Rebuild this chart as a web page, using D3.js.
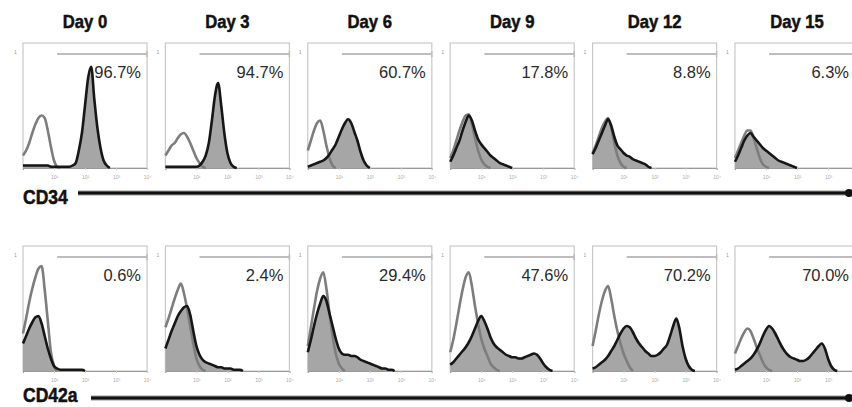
<!DOCTYPE html>
<html><head><meta charset="utf-8">
<script src="https://cdn.jsdelivr.net/npm/d3@7"></script>
<style>
html,body{margin:0;padding:0;background:#fff;overflow:hidden;}
svg{display:block;}
</style></head>
<body>
<svg id="chart" width="852" height="407"></svg>
<script>
// ---------- DATA ----------
const days = ["Day 0", "Day 3", "Day 6", "Day 9", "Day 12", "Day 15"];
const markers = ["CD34", "CD42a"];
const cd34Percent = ["96.7%", "94.7%", "60.7%", "17.8%", "8.8%", "6.3%"];
const cd42aPercent = ["0.6%", "2.4%", "29.4%", "47.6%", "70.2%", "70.0%"];
const decadeTicks = [10, 100, 1000, 10000];
const decadeLabels = ["10¹", "10²", "10³", "10⁴"];
const gateStart = 12.6;          // fluorescence value where the positive gate begins
const channelStep = 0.1;         // log-decade spacing of histogram channels

// relative cell counts per channel (isotype control = grey outline, stained = filled)
const cd34Isotype = [
  [0.10,0.14,0.20,0.28,0.35,0.40,0.42,0.40,0.30,0.17,0.06,0.01,0],
  [0.10,0.14,0.18,0.20,0.24,0.27,0.28,0.25,0.20,0.14,0.08,0.04,0.01,0],
  [0.14,0.22,0.30,0.36,0.38,0.30,0.18,0.08,0.02,0],
  [0.08,0.14,0.22,0.30,0.37,0.42,0.43,0.35,0.24,0.14,0.07,0.03,0.01,0],
  [0.12,0.18,0.25,0.32,0.37,0.40,0.32,0.20,0.10,0.04,0.01,0],
  [0.08,0.14,0.20,0.26,0.30,0.30,0.24,0.16,0.08,0.03,0.01,0]
];
const cd34Stained = [
  [0.02,0.02,0.02,0.02,0.02,0.02,0.02,0.02,0.02,0.01,0.01,0.01,0.01,0.01,0.01,0.01,0.02,0.04,0.14,0.28,0.50,0.72,0.81,0.55,0.32,0.16,0.06,0.02,0],
  [0.01,0.01,0.01,0.01,0.01,0.01,0.01,0.01,0.01,0.01,0.01,0.02,0.05,0.10,0.20,0.38,0.58,0.68,0.50,0.28,0.12,0.04,0.01,0],
  [0.01,0.02,0.03,0.04,0.05,0.06,0.08,0.11,0.15,0.19,0.25,0.31,0.36,0.39,0.36,0.29,0.22,0.13,0.06,0.02,0],
  [0.05,0.10,0.16,0.22,0.30,0.37,0.42,0.38,0.30,0.23,0.19,0.16,0.13,0.10,0.08,0.06,0.04,0.03,0.02,0.01,0],
  [0.11,0.16,0.22,0.28,0.34,0.39,0.34,0.25,0.18,0.15,0.12,0.10,0.09,0.07,0.06,0.05,0.04,0.03,0.01,0],
  [0.05,0.10,0.16,0.22,0.26,0.28,0.25,0.22,0.19,0.16,0.14,0.12,0.10,0.08,0.06,0.05,0.04,0.03,0.02,0.01,0]
];
const cd42aIsotype = [
  [0.30,0.42,0.55,0.66,0.75,0.82,0.84,0.65,0.40,0.15,0.04,0],
  [0.35,0.42,0.50,0.58,0.65,0.70,0.62,0.50,0.36,0.22,0.10,0.04,0.01,0],
  [0.20,0.35,0.50,0.64,0.74,0.79,0.66,0.46,0.28,0.14,0.06,0.02,0],
  [0.15,0.25,0.38,0.52,0.65,0.75,0.79,0.68,0.52,0.38,0.26,0.18,0.12,0.06,0.03,0.01,0],
  [0.20,0.32,0.45,0.56,0.64,0.68,0.58,0.44,0.32,0.22,0.14,0.08,0.03,0],
  [0.14,0.20,0.26,0.31,0.34,0.32,0.26,0.19,0.13,0.07,0.03,0.01,0]
];
const cd42aStained = [
  [0.22,0.28,0.34,0.39,0.43,0.44,0.38,0.28,0.18,0.10,0.04,0.02,0.01,0.01,0.01,0.01,0.01,0.01,0.01,0.01,0],
  [0.18,0.25,0.32,0.38,0.44,0.48,0.51,0.52,0.45,0.32,0.20,0.13,0.09,0.07,0.06,0.05,0.04,0.03,0.03,0.02,0.02,0.02,0.01,0.01,0.01,0],
  [0.15,0.25,0.36,0.46,0.54,0.60,0.56,0.46,0.36,0.26,0.18,0.14,0.13,0.13,0.12,0.12,0.11,0.09,0.08,0.07,0.06,0.05,0.04,0.03,0.02,0.02,0.01,0.01,0],
  [0.05,0.07,0.10,0.13,0.16,0.19,0.23,0.28,0.34,0.40,0.44,0.40,0.34,0.27,0.22,0.19,0.17,0.15,0.13,0.12,0.11,0.11,0.10,0.10,0.11,0.12,0.13,0.14,0.13,0.10,0.06,0.03,0.01,0],
  [0.02,0.03,0.05,0.07,0.09,0.12,0.16,0.20,0.25,0.30,0.34,0.36,0.35,0.31,0.26,0.22,0.19,0.16,0.14,0.12,0.12,0.13,0.15,0.18,0.21,0.28,0.36,0.42,0.34,0.20,0.10,0.04,0.01,0],
  [0.01,0.02,0.04,0.06,0.08,0.10,0.13,0.17,0.22,0.28,0.33,0.36,0.34,0.30,0.25,0.20,0.16,0.13,0.11,0.10,0.09,0.08,0.08,0.09,0.11,0.14,0.17,0.20,0.22,0.18,0.10,0.04,0.01,0]
];

// ---------- LAYOUT ----------
const W = 852;
const svg = d3.select("#chart");
const panelSize = 125;
const rows = [
  { marker: markers[0], top: 43,  pct: cd34Percent,  iso: cd34Isotype,  st: cd34Stained,  labelY: 204, arrowY: 193, arrowX0: 78 },
  { marker: markers[1], top: 246, pct: cd42aPercent, iso: cd42aIsotype, st: cd42aStained, labelY: 402, arrowY: 398, arrowX0: 91 }
];

const colX = d3.scaleBand().domain(days).range([23, 859]).paddingInner(0.129).paddingOuter(0);
const fx = d3.scaleLog().domain([1, 10000]).range([0, colX.bandwidth()]);
const fy = d3.scaleLinear().domain([0, 1]).range([panelSize, 0]);

const defs = svg.append("defs");
defs.append("filter").attr("id", "soft").attr("x", "-5%").attr("y", "-5%").attr("width", "110%").attr("height", "110%")
  .append("feGaussianBlur").attr("stdDeviation", 0.55);

const chan = i => Math.pow(10, i * channelStep);
const area = d3.area().x((d, i) => fx(chan(i))).y0(fy(0)).y1(d => fy(d)).curve(d3.curveMonotoneX);
const line = d3.line().x((d, i) => fx(chan(i))).y(d => fy(d)).curve(d3.curveMonotoneX);

// Column titles
svg.selectAll("text.day").data(days).join("text")
  .attr("class", "day")
  .attr("transform", d => `translate(${colX(d) + colX.bandwidth() / 2},28) scale(0.9,1)`)
  .attr("text-anchor", "middle")
  .attr("font-family", "'Liberation Sans', Arial, sans-serif")
  .attr("font-weight", "bold").attr("font-size", 18.5)
  .attr("fill", "#111").attr("stroke", "#111").attr("stroke-width", 0.5)
  .text(d => d);

rows.forEach(row => {
  days.forEach((day, k) => {
    const x0 = colX(day);
    const g = svg.append("g").attr("transform", `translate(${x0},${row.top})`);
    const w = colX.bandwidth();

    // frame
    g.append("rect").attr("x", 0).attr("y", 0).attr("width", w).attr("height", panelSize)
      .attr("fill", "#fff").attr("stroke", "#c8c8c8").attr("stroke-width", 1.2);

    // tiny y-axis label at top-left
    g.append("text").attr("x", -9).attr("y", 11).attr("font-size", 5)
      .attr("font-family", "'Liberation Sans', Arial, sans-serif").attr("fill", "#999").text("1");

    // x axis (log decades); ticks beyond the picture edge are not shown
    const visTicks = decadeTicks.filter(v => x0 + fx(v) < W - 4);
    const ax = g.append("g").attr("transform", `translate(0,${panelSize})`)
      .call(d3.axisBottom(fx).tickValues(visTicks)
        .tickFormat(v => decadeLabels[decadeTicks.indexOf(v)]).tickSize(2).tickPadding(5));
    ax.select(".domain").attr("stroke", "#999").attr("stroke-width", 1.2);
    ax.selectAll(".tick line").attr("stroke", "#ccc");
    ax.selectAll(".tick text").attr("font-size", 5).attr("fill", "#aaa")
      .attr("font-family", "'Liberation Sans', Arial, sans-serif");

    // gate bar
    const gy = 11;
    g.append("line").attr("x1", fx(gateStart)).attr("x2", w).attr("y1", gy).attr("y2", gy)
      .attr("stroke", "#bdbdbd").attr("stroke-width", 2);
    g.append("line").attr("x1", w).attr("x2", w).attr("y1", gy - 3).attr("y2", gy + 3)
      .attr("stroke", "#bdbdbd").attr("stroke-width", 1.5);

    // histograms
    g.append("path").datum(row.st[k]).attr("d", area).attr("fill", "#a6a6a6");
    g.append("path").datum(row.iso[k]).attr("d", line).attr("fill", "none")
      .attr("stroke", "#7d7d7d").attr("stroke-width", 2.6).attr("filter", "url(#soft)");
    g.append("path").datum(row.st[k]).attr("d", line).attr("fill", "none")
      .attr("stroke", "#151515").attr("stroke-width", 2.6).attr("filter", "url(#soft)");

    // percentage
    g.append("text").attr("x", Math.min(w - 6, W - 3 - x0)).attr("y", 35).attr("text-anchor", "end")
      .attr("font-family", "'Liberation Sans', Arial, sans-serif").attr("font-size", 16.5)
      .attr("fill", "#2a2a2a").text(row.pct[k]);
  });

  // marker label
  svg.append("text").attr("transform", `translate(23,${row.labelY}) scale(0.9,1)`)
    .attr("font-family", "'Liberation Sans', Arial, sans-serif").attr("font-weight", "bold")
    .attr("font-size", 19.5).attr("fill", "#111").attr("stroke", "#111").attr("stroke-width", 0.5)
    .text(row.marker);

  // arrow axis
  svg.append("line").attr("x1", row.arrowX0).attr("x2", 849).attr("y1", row.arrowY).attr("y2", row.arrowY)
    .attr("stroke", "#9a9a9a").attr("stroke-width", 5);
  svg.append("line").attr("x1", row.arrowX0).attr("x2", 849).attr("y1", row.arrowY).attr("y2", row.arrowY)
    .attr("stroke", "#111").attr("stroke-width", 3);
  svg.append("circle").attr("cx", 849).attr("cy", row.arrowY).attr("r", 4).attr("fill", "#111");
});
</script>
</body></html>
